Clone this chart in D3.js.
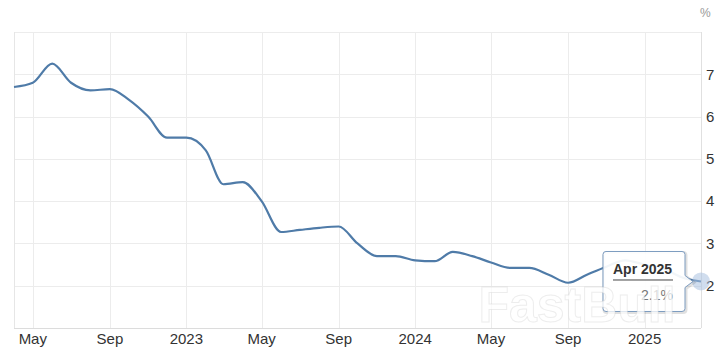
<!DOCTYPE html>
<meta charset="utf-8">
<head>
  <script src="https://d3js.org/d3.v7.min.js"></script>
  <style>
    body { margin: 0; background: #fff; }
    text { font-family: "Liberation Sans", Arial, sans-serif; }
  </style>
</head>
<body>
  <div id="chart"></div>
  <script>
    // monthly values, Apr 2022 .. Apr 2025 (%)
    var months = [
      "2022-04", "2022-05", "2022-06", "2022-07", "2022-08", "2022-09", "2022-10", "2022-11", "2022-12",
      "2023-01", "2023-02", "2023-03", "2023-04", "2023-05", "2023-06", "2023-07", "2023-08", "2023-09",
      "2023-10", "2023-11", "2023-12", "2024-01", "2024-02", "2024-03", "2024-04", "2024-05", "2024-06",
      "2024-07", "2024-08", "2024-09", "2024-10", "2024-11", "2024-12", "2025-01", "2025-02", "2025-03",
      "2025-04"
    ];
    var values = [
      6.7, 6.8, 7.25, 6.8, 6.62, 6.65, 6.4, 6.0, 5.5,
      5.5, 5.2, 4.4, 4.45, 4.0, 3.27, 3.32, 3.37, 3.4,
      3.0, 2.7, 2.7, 2.6, 2.58, 2.8, 2.7, 2.55, 2.42,
      2.42, 2.26, 2.07, 2.26, 2.45, 2.6, 2.5, 2.4, 2.2,
      2.1
    ];
    var yTicks = [2, 3, 4, 5, 6, 7];
    var xTicks = [
      { date: "2022-05", label: "May" }, { date: "2022-09", label: "Sep" },
      { date: "2023-01", label: "2023" }, { date: "2023-05", label: "May" },
      { date: "2023-09", label: "Sep" }, { date: "2024-01", label: "2024" },
      { date: "2024-05", label: "May" }, { date: "2024-09", label: "Sep" },
      { date: "2025-01", label: "2025" }
    ];
    var tipLabel = "Apr 2025", tipValue = "2.1%";

    var W = 724, H = 356;
    var margin = { top: 32, right: 23, bottom: 28, left: 14 },
      width = W - margin.left - margin.right,
      height = H - margin.top - margin.bottom;

    var parse = d3.timeParse("%Y-%m");
    var data = months.map(function (m, i) { return { date: parse(m), value: values[i] }; });

    var svg = d3.select("#chart").append("svg")
      .attr("width", W).attr("height", H);
    var g = svg.append("g")
      .attr("transform", "translate(" + margin.left + "," + margin.top + ")");

    var x = d3.scaleTime()
      .domain(d3.extent(data, function (d) { return d.date; }))
      .range([0, width]);
    var y = d3.scaleLinear().domain([1, 8]).range([height, 0]);

    // horizontal grid
    g.selectAll(".hgrid").data([2, 3, 4, 5, 6, 7, 8]).enter().append("line")
      .attr("x1", 0).attr("x2", width)
      .attr("y1", function (d) { return Math.round(y(d)) + 0.5; })
      .attr("y2", function (d) { return Math.round(y(d)) + 0.5; })
      .attr("stroke", "#ececec");

    // vertical grid
    g.selectAll(".vgrid").data(xTicks).enter().append("line")
      .attr("x1", function (d) { return Math.round(x(parse(d.date))) + 0.5; })
      .attr("x2", function (d) { return Math.round(x(parse(d.date))) + 0.5; })
      .attr("y1", 0).attr("y2", height)
      .attr("stroke", "#ececec");

    // frame
    g.append("line").attr("x1", 0.5).attr("x2", 0.5).attr("y1", 0).attr("y2", height).attr("stroke", "#e6e6e6");
    g.append("line").attr("x1", width + 0.5).attr("x2", width + 0.5).attr("y1", 0).attr("y2", height).attr("stroke", "#e0e0e0");
    g.append("line").attr("x1", 0).attr("x2", width).attr("y1", height + 0.5).attr("y2", height + 0.5).attr("stroke", "#dcdcdc");

    // watermark (behind axis labels)
    svg.append("text")
      .attr("x", 577).attr("y", 322)
      .attr("text-anchor", "middle")
      .style("font-size", "50px").style("font-weight", "bold")
      .style("fill", "#fff").style("fill-opacity", 0.75)
      .style("stroke", "#ccc").style("stroke-opacity", 0.35).style("stroke-width", 1)
      .text("FastBull");

    // x labels
    g.selectAll(".xl").data(xTicks).enter().append("text")
      .attr("x", function (d) { return x(parse(d.date)); })
      .attr("y", height + 16)
      .attr("text-anchor", "middle")
      .style("font-size", "15px")
      .style("fill", "#333")
      .text(function (d) { return d.label; });

    // y labels
    g.selectAll(".yl").data(yTicks).enter().append("text")
      .attr("x", width + 5)
      .attr("y", function (d) { return y(d); })
      .attr("dy", "0.35em")
      .style("font-size", "15px")
      .style("fill", "#333")
      .text(function (d) { return d; });

    svg.append("text")
      .attr("x", 700).attr("y", 17)
      .style("font-size", "12px")
      .style("fill", "#999")
      .text("%");

    // line
    var line = d3.line()
      .x(function (d) { return x(d.date); })
      .y(function (d) { return y(d.value); })
      .curve(d3.curveMonotoneX);
    g.append("path").datum(data)
      .attr("d", line)
      .attr("fill", "none")
      .attr("stroke", "#4f7ba8")
      .attr("stroke-width", 2.2);

    // hover marker
    var last = data[data.length - 1];
    var px = x(last.date), py = y(last.value);
    g.append("circle")
      .attr("cx", px).attr("cy", py).attr("r", 9)
      .attr("fill", "#a9c1e0").attr("opacity", 0.55);

    // tooltip
    var tx0 = px - 98, tx1 = px - 16, ty0 = py - 30, ty1 = py + 30;
    var tip = g.append("g");
    var tipPath = "M" + (tx0 + 3) + "," + ty0 +
      " L" + (tx1 - 3) + "," + ty0 +
      " Q" + tx1 + "," + ty0 + " " + tx1 + "," + (ty0 + 3) +
      " L" + tx1 + "," + (py - 6) +
      " L" + (px - 8) + "," + py +
      " L" + tx1 + "," + (py + 6) +
      " L" + tx1 + "," + (ty1 - 3) +
      " Q" + tx1 + "," + ty1 + " " + (tx1 - 3) + "," + ty1 +
      " L" + (tx0 + 3) + "," + ty1 +
      " Q" + tx0 + "," + ty1 + " " + tx0 + "," + (ty1 - 3) +
      " L" + tx0 + "," + (ty0 + 3) +
      " Q" + tx0 + "," + ty0 + " " + (tx0 + 3) + "," + ty0 + " Z";
    tip.append("path").attr("d", tipPath)
      .attr("transform", "translate(1,1)")
      .attr("fill", "none").attr("stroke", "#000").attr("stroke-opacity", 0.12).attr("stroke-width", 3);
    tip.append("path").attr("d", tipPath)
      .attr("fill", "#fff").attr("fill-opacity", 0.92)
      .attr("stroke", "#7d9cc0").attr("stroke-width", 1);
    tip.append("text")
      .attr("x", tx0 + 10).attr("y", ty0 + 23)
      .style("font-size", "14px").style("font-weight", "bold").style("fill", "#333")
      .text(tipLabel);
    tip.append("line")
      .attr("x1", tx0 + 10).attr("x2", tx0 + 70)
      .attr("y1", ty0 + 28.5).attr("y2", ty0 + 28.5)
      .attr("stroke", "#444");
    tip.append("text")
      .attr("x", tx0 + 70).attr("y", ty0 + 49)
      .attr("text-anchor", "end")
      .style("font-size", "14px").style("fill", "#777")
      .text(tipValue);
  </script>
</body>
